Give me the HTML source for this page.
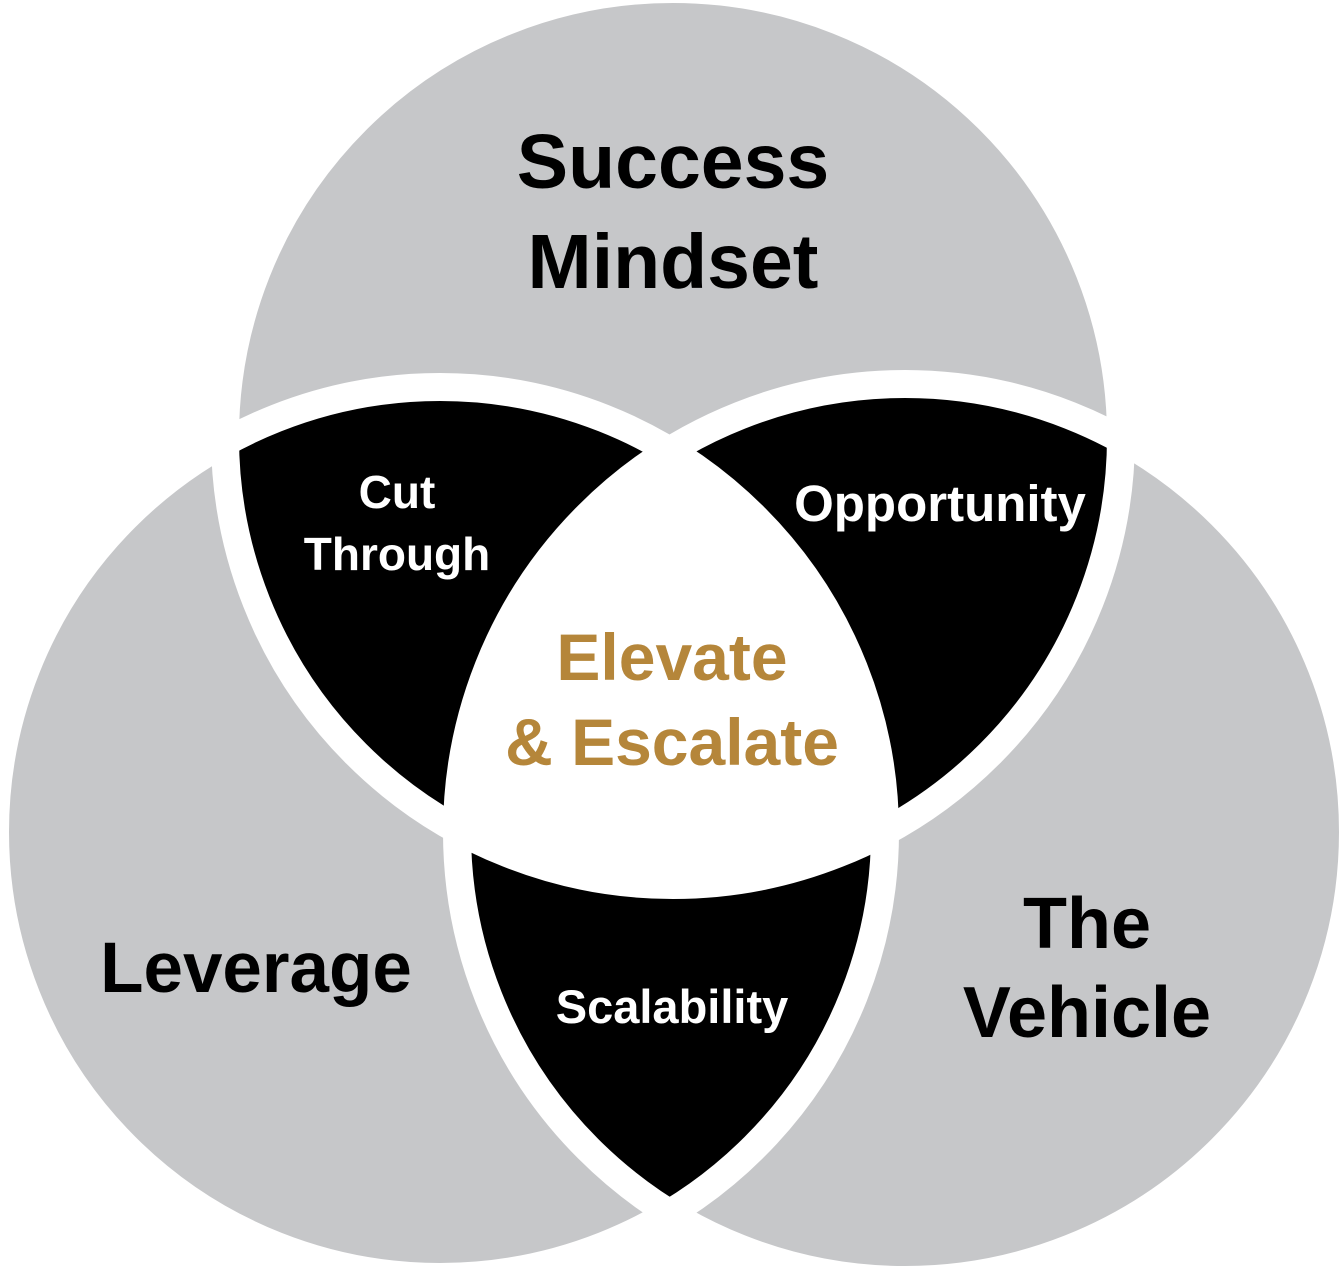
<!DOCTYPE html>
<html><head><style>
html,body{margin:0;padding:0;background:#fff;}
svg{display:block;}
text{font-family:"Liberation Sans",sans-serif;font-weight:bold;text-anchor:middle;}
</style></head><body>
<svg width="1342" height="1271" viewBox="0 0 1342 1271" xmlns="http://www.w3.org/2000/svg">
<defs>
<clipPath id="cT"><circle cx="673" cy="437" r="448"/></clipPath>
<clipPath id="cL"><circle cx="440" cy="832" r="445"/></clipPath>
<clipPath id="cR"><circle cx="905" cy="832" r="448"/></clipPath>
</defs>
<circle cx="673" cy="437" r="448" fill="#c6c7c9"/>
<circle cx="440" cy="832" r="445" fill="#c6c7c9"/>
<circle cx="905" cy="832" r="448" fill="#c6c7c9"/>
<g clip-path="url(#cT)"><circle cx="440" cy="832" r="445" fill="#000"/></g>
<g clip-path="url(#cT)"><circle cx="905" cy="832" r="448" fill="#000"/></g>
<g clip-path="url(#cL)"><circle cx="905" cy="832" r="448" fill="#000"/></g>
<g clip-path="url(#cT)"><g clip-path="url(#cL)"><circle cx="905" cy="832" r="448" fill="#fff"/></g></g>
<g fill="none" stroke="#fff" stroke-width="28">
<circle cx="673" cy="437" r="448"/>
<circle cx="440" cy="832" r="445"/>
<circle cx="905" cy="832" r="448"/>
</g>
<text x="673" y="188" font-size="77" fill="#000">Success</text>
<text x="673" y="288" font-size="77" fill="#000">Mindset</text>
<text x="256" y="992" font-size="71" fill="#000">Leverage</text>
<text x="1087" y="948" font-size="72" fill="#000">The</text>
<text x="1087" y="1037" font-size="72" fill="#000">Vehicle</text>
<text x="397" y="508" font-size="46" fill="#fff">Cut</text>
<text x="397" y="570" font-size="46" fill="#fff">Through</text>
<text x="940" y="521" font-size="51" fill="#fff">Opportunity</text>
<text x="672" y="1023" font-size="47" fill="#fff">Scalability</text>
<text x="672" y="680" font-size="66" fill="#b5863a">Elevate</text>
<text x="672" y="765" font-size="66" fill="#b5863a">&amp; Escalate</text>
</svg>
</body></html>
